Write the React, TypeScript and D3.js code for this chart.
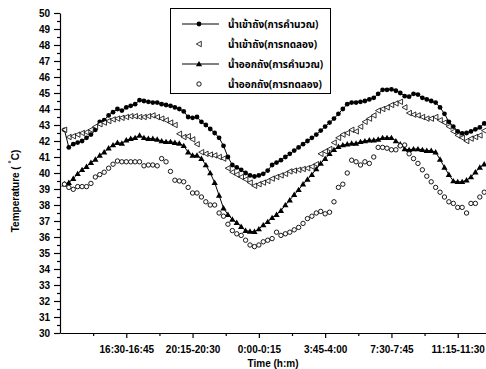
import { useEffect, useRef } from "react";
import * as d3 from "d3";

// 15-minute slots, 1..96 (slot 0 = 12:45-13:00)
const CALC_IN = [
  42.7, 41.6, 41.8, 41.9, 42.0, 42.2, 42.4, 42.7, 43.2, 43.3,
  43.6, 43.8, 44.0, 43.9, 44.1, 44.2, 44.3, 44.55, 44.5, 44.45,
  44.4, 44.4, 44.3, 44.25, 44.2, 44.1, 44.0, 43.85, 43.5, 43.45,
  43.5, 43.2, 43.0, 42.75, 42.5, 42.2, 41.7, 41.0, 40.5, 40.35,
  40.2, 40.0, 39.85, 39.78, 39.85, 39.95, 40.15, 40.5, 40.65, 40.8,
  41.0, 41.2, 41.4, 41.6, 41.8, 42.0, 42.2, 42.4, 42.65, 42.9,
  43.15, 43.4, 43.7, 44.0, 44.3, 44.4, 44.4, 44.45, 44.5, 44.6,
  44.7, 44.95, 45.2, 45.2, 45.23, 45.14, 45.0, 44.8, 44.77, 44.95,
  44.9, 44.7, 44.6, 44.5, 44.4, 44.1, 43.7, 43.2, 42.9, 42.6,
  42.48, 42.5, 42.6, 42.73, 42.85, 43.1,
];
const EXP_IN = [
  42.7, 42.25, 42.3, 42.4, 42.5, 42.55, 42.7, 42.9, 43.05, 43.15,
  43.25, 43.35, 43.4, 43.45, 43.5, 43.55, 43.55, 43.5, 43.5, 43.55,
  43.6, 43.5, 43.4, 43.3, 43.15, 43.0, 42.45, 42.25, 42.3, 42.1,
  41.8, 41.3, 41.2, 41.15, 41.1, 41.0, 40.9, 40.3, 40.05, 39.9,
  39.75, 39.6, 39.4, 39.2, 39.3, 39.4, 39.5, 39.65, 39.75, 39.85,
  39.95, 40.1, 40.15, 40.2, 40.25, 40.3, 40.4, 40.55, 41.2, 41.35,
  41.5, 41.9, 42.2, 42.4, 42.5, 42.7, 42.6, 42.9, 43.2, 43.4,
  43.6, 43.9, 44.0, 44.1, 44.25, 44.35, 44.45, 44.1, 43.75, 43.65,
  43.6, 43.5, 43.4, 43.4, 43.5, 43.3, 43.15, 42.9, 42.6, 42.35,
  42.2, 42.0, 42.15, 42.25, 42.35, 42.65,
];
const CALC_OUT = [
  39.3, 39.4, 39.65, 39.95, 40.2, 40.4, 40.65, 40.85, 41.1, 41.3,
  41.55, 41.75, 41.9, 41.85, 42.05, 42.15, 42.2, 42.35, 42.2, 42.15,
  42.15, 42.1, 42.0, 41.95, 41.95, 41.9, 41.85, 41.7, 41.3, 41.1,
  41.1, 40.9, 40.5, 40.0, 39.4, 38.6, 37.8, 37.4, 37.1, 36.9,
  36.65, 36.4, 36.35, 36.33, 36.5, 36.75, 36.95, 37.2, 37.4, 37.65,
  38.0, 38.3, 38.65, 38.95, 39.3, 39.6, 39.9, 40.25, 40.6, 40.9,
  41.2, 41.45, 41.65, 41.75, 41.8, 41.85, 41.85, 41.95, 42.0, 42.05,
  42.05, 42.1, 42.2, 42.2, 42.2, 42.0, 41.8, 41.5, 41.45, 41.5,
  41.5, 41.45, 41.4, 41.4, 41.3, 40.85, 40.35, 39.9, 39.5, 39.45,
  39.45, 39.55, 39.75, 40.05, 40.35, 40.55,
];
const EXP_OUT = [
  39.3, 39.1, 38.98, 39.15, 39.15, 39.15, 39.35, 39.75, 39.9, 40.05,
  40.3, 40.55, 40.75, 40.7, 40.7, 40.7, 40.7, 40.7, 40.45, 40.5,
  40.5, 40.45, 40.9, 40.7, 40.1, 39.55, 39.5, 39.45, 39.1, 38.75,
  38.75, 38.5, 38.2, 38.0, 38.0, 37.5, 37.3, 36.8, 36.4, 36.2,
  36.1, 35.8, 35.5, 35.4, 35.5, 35.7, 35.8, 35.9, 36.3, 36.1,
  36.2, 36.3, 36.45, 36.6, 36.85, 37.15, 37.3, 37.5, 37.6, 37.45,
  37.55, 38.2, 39.1, 39.3, 40.0, 40.8, 40.7, 40.5, 40.7, 40.6,
  41.0, 41.6, 41.6, 41.55, 41.45, 41.45, 41.7, 41.75, 41.2, 40.9,
  40.6, 40.2, 39.8, 39.45, 39.1, 38.8, 38.5, 38.2, 38.1, 37.85,
  37.85, 37.5, 38.1, 38.1, 38.5, 38.8,
];

const TICK_SLOTS = [15, 30, 45, 60, 75, 90];
const TICK_LABELS = ["16:30-16:45", "20:15-20:30", "0:00-0:15", "3:45-4:00", "7:30-7:45", "11:15-11:30"];
const MINOR_SLOTS = [7.5, 22.5, 37.5, 52.5, 67.5, 82.5];

const LEGEND = [
  "น้ำเข้าถัง(การคำนวณ)",
  "น้ำเข้าถัง(การทดลอง)",
  "น้ำออกถัง(การคำนวณ)",
  "น้ำออกถัง(การทดลอง)",
];

const W = 486;
const H = 369;
const FONT = "'Liberation Sans', Arial, sans-serif";

const x = d3.scaleLinear().domain([0, 96.4]).range([60, 486]);
const y = d3.scaleLinear().domain([30, 50]).range([333, 13]);

const triUp = d3.symbol().type(d3.symbolTriangle).size(17);

const Marker = ({ kind, cx, cy }: { kind: number; cx: number; cy: number }) => {
  if (kind === 0) return <circle cx={cx} cy={cy} r={2.4} fill="#000" />;
  if (kind === 1)
    return (
      <path
        d={`M${cx - 2.7},${cy} L${cx + 2.3},${cy - 2.7} L${cx + 2.3},${cy + 2.7} Z`}
        fill="#fff"
        stroke="#000"
        strokeWidth={0.8}
      />
    );
  if (kind === 2) return <path d={triUp() || ""} transform={`translate(${cx},${cy + 0.5})`} fill="#000" />;
  return <circle cx={cx} cy={cy} r={2.2} fill="#fff" stroke="#000" strokeWidth={0.9} />;
};

export default function App() {
  const axesRef = useRef<SVGGElement>(null);

  useEffect(() => {
    const g = d3.select(axesRef.current);
    g.selectAll("*").remove();

    // y axis, major + minor ticks
    g.append("g")
      .attr("transform", "translate(60,0)")
      .call(d3.axisLeft(y).tickValues(d3.range(30, 51)).tickSize(6).tickSizeOuter(0).tickPadding(4));
    g.append("g")
      .attr("transform", "translate(60,0)")
      .call(d3.axisLeft(y).tickValues(d3.range(30.5, 50, 1)).tickSize(3).tickSizeOuter(0).tickFormat(() => ""))
      .select(".domain")
      .remove();

    // x axis
    g.append("g")
      .attr("transform", "translate(0,333)")
      .call(
        d3
          .axisBottom(x)
          .tickValues(TICK_SLOTS)
          .tickSize(5)
          .tickSizeOuter(0)
          .tickPadding(8)
          .tickFormat((_, i) => TICK_LABELS[i])
      );
    g.append("g")
      .attr("transform", "translate(0,333)")
      .call(d3.axisBottom(x).tickValues(MINOR_SLOTS).tickSize(3).tickFormat(() => ""))
      .select(".domain")
      .remove();

    g.selectAll(".domain, .tick line").attr("stroke", "#000").attr("stroke-width", 1.2);
    g.selectAll(".tick text")
      .attr("font-family", FONT)
      .attr("font-weight", "bold")
      .attr("font-size", 10)
      .attr("fill", "#000");
  }, []);

  const lineGen = d3
    .line<number>()
    .x((_, i) => x(i + 1))
    .y((d) => y(d));

  const series = [CALC_IN, EXP_IN, CALC_OUT, EXP_OUT];

  return (
    <svg width={W} height={H} style={{ position: "absolute", left: 0, top: 0, background: "#fff" }}>
      <rect width={W} height={H} fill="#fff" />
      <path d={lineGen(CALC_IN) || ""} fill="none" stroke="#000" strokeWidth={1} />
      <path d={lineGen(CALC_OUT) || ""} fill="none" stroke="#000" strokeWidth={1} />
      {series.map((s, k) =>
        s.map((v, i) => <Marker key={`${k}-${i}`} kind={k} cx={x(i + 1)} cy={y(v)} />)
      )}
      <g ref={axesRef} />

      <text
        transform="translate(19,191) rotate(-90)"
        textAnchor="middle"
        fontFamily={FONT}
        fontWeight="bold"
        fontSize={10}
      >
        {"Temperature ( "}
        <tspan dy={-5} fontSize={8}>°</tspan>
        <tspan dy={5}>C)</tspan>
      </text>
      <text x={273} y={367} textAnchor="middle" fontFamily={FONT} fontWeight="bold" fontSize={10}>
        Time (h:m)
      </text>

      <g>
        <rect x={170.5} y={8.5} width={160} height={85} fill="#fff" stroke="#000" strokeWidth={1} />
        {LEGEND.map((label, k) => {
          const ly = 24 + k * 20;
          return (
            <g key={label}>
              {(k === 0 || k === 2) && <line x1={182} x2={219} y1={ly} y2={ly} stroke="#000" strokeWidth={1} />}
              <Marker kind={k} cx={199} cy={ly} />
              <text x={228} y={ly + 4} fontFamily="'Noto Sans Thai', Tahoma, sans-serif" fontWeight="bold" fontSize={10}>
                {label}
              </text>
            </g>
          );
        })}
      </g>
    </svg>
  );
}
